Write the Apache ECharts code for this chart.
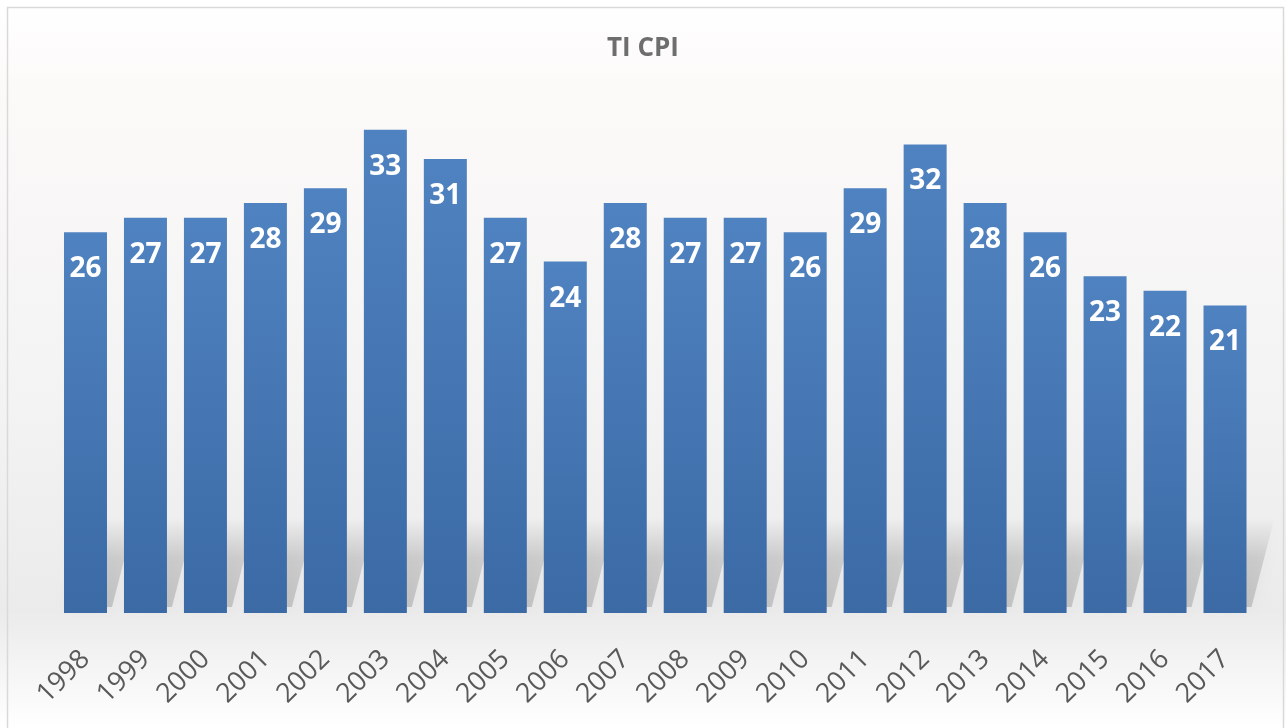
<!DOCTYPE html>
<html>
<head>
<meta charset="utf-8">
<script src="https://cdn.jsdelivr.net/npm/echarts@6/dist/echarts.min.js"></script>
<style>
html,body{margin:0;padding:0;background:#fff;}
#chart{width:1286px;height:728px;}
</style>
</head>
<body>
<div id="chart"></div>
<script>
const titleText = 'TI CPI';
const categories = ['1998','1999','2000','2001','2002','2003','2004','2005','2006','2007','2008','2009','2010','2011','2012','2013','2014','2015','2016','2017'];
const values = [26,27,27,28,29,33,31,27,24,28,27,27,26,29,32,28,26,23,22,21];

const chart = echarts.init(document.getElementById('chart'));
const BAR_W = 43;

chart.setOption({
  backgroundColor: {
    type: 'linear', x: 0, y: 0, x2: 0, y2: 1,
    colorStops: [
      {offset: 0, color: '#ffffff'},
      {offset: 0.12, color: '#fcfaf9'},
      {offset: 0.55, color: '#f3f3f3'},
      {offset: 0.84, color: '#ebebeb'},
      {offset: 1, color: '#ffffff'}
    ]
  },
  animation: false,
  title: {
    text: titleText,
    left: 'center',
    top: 31,
    textStyle: {fontFamily: 'Open Sans', fontWeight: 'bold', fontSize: 26, color: '#6e6e6e'}
  },
  graphic: [{
    type: 'rect',
    shape: {x: 7.5, y: 7.5, width: 1276, height: 740},
    style: {fill: 'none', stroke: '#d9d9d9', lineWidth: 1.5},
    silent: true,
    z: 100
  }],
  grid: {left: 55.5, right: 31, top: 100.5, bottom: 115},
  xAxis: {
    type: 'category',
    data: categories,
    axisLine: {show: false},
    axisTick: {show: false},
    axisLabel: {
      rotate: 45,
      margin: 42,
      interval: 0,
      fontFamily: 'Open Sans',
      fontSize: 27,
      color: '#595959'
    }
  },
  yAxis: {
    type: 'value',
    min: 0, max: 35,
    show: false,
    splitLine: {show: false}
  },
  series: [
    {
      type: 'custom',
      silent: true,
      z: 1,
      data: values,
      renderItem: function (params, api) {
        const p = api.coord([params.dataIndex, 0]);
        const xL = p[0] - BAR_W / 2, xR = p[0] + BAR_W / 2, y0 = p[1];
        return {
          type: 'polygon',
          shape: {points: [[xL + 4, y0 - 6], [xR + 5, y0 - 6], [xR + 28, y0 - 95], [xL + 26, y0 - 95]]},
          style: {
            fill: {
              type: 'linear', x: 0, y: 0, x2: 0, y2: 1,
              colorStops: [
                {offset: 0, color: 'rgba(0,0,0,0)'},
                {offset: 0.45, color: 'rgba(0,0,0,0.12)'},
                {offset: 1, color: 'rgba(0,0,0,0.16)'}
              ]
            },
            shadowBlur: 16,
            shadowColor: 'rgba(0,0,0,0.25)'
          }
        };
      }
    },
    {
      type: 'bar',
      z: 2,
      data: values,
      barWidth: BAR_W,
      itemStyle: {
        color: {
          type: 'linear', x: 0, y: 0, x2: 0, y2: 1,
          colorStops: [
            {offset: 0, color: '#4f82c0'},
            {offset: 1, color: '#3b6aa5'}
          ]
        }
      },
      label: {
        show: true,
        position: 'insideTop',
        distance: 23,
        fontFamily: 'Open Sans',
        fontWeight: 'bold',
        fontSize: 28,
        color: '#ffffff'
      }
    }
  ]
});
</script>
</body>
</html>
